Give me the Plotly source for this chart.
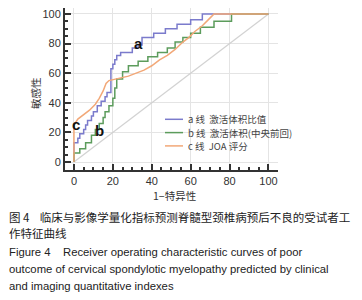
import plotly.graph_objects as go

# ROC curve data (1-specificity %, sensitivity %)
a_x = [0, 0, 2, 2, 3, 3, 5, 5, 6, 6, 7, 7, 9, 9, 10, 10, 12, 12, 14, 14, 16, 16, 17, 17, 19, 19, 20, 20, 21, 21, 22, 22, 24, 24, 30, 30, 33, 33, 35, 35, 41, 41, 47, 47, 53, 53, 60, 60, 66, 66, 100]
a_y = [0, 13, 13, 16, 16, 19, 19, 22, 22, 25, 25, 28, 28, 31, 31, 34, 34, 38, 38, 41, 41, 44, 44, 47, 47, 63, 63, 66, 66, 69, 69, 72, 72, 74, 74, 77, 77, 79, 79, 84, 84, 87, 87, 90, 90, 93, 93, 96, 96, 100, 100]

b_x = [0, 0, 3, 3, 6, 6, 9, 9, 11, 11, 13, 13, 15, 15, 16, 16, 18, 18, 20, 20, 21, 21, 22, 22, 25, 25, 28, 28, 33, 33, 38, 38, 43, 43, 48, 48, 52, 52, 56, 56, 60, 60, 65, 65, 72, 72, 81, 81, 100]
b_y = [0, 6, 6, 9, 9, 13, 13, 18, 18, 22, 22, 26, 26, 30, 30, 34, 34, 38, 38, 43, 43, 50, 50, 56, 56, 61, 61, 65, 65, 68, 68, 71, 71, 74, 74, 77, 77, 81, 81, 84, 84, 87, 87, 91, 91, 95, 95, 100, 100]

c_x = [0, 0, 2, 5, 8, 11, 13, 15, 16.5, 18, 21, 24, 28, 32, 36, 40, 44, 48, 52, 56, 59, 62, 66, 69, 72, 100]
c_y = [0, 25, 29, 32, 35, 39, 43, 48, 53, 55, 56, 57, 58, 60, 62, 65, 69, 72, 76, 81, 84, 88, 92, 96, 100, 100]

diag_x = [0, 100]
diag_y = [0, 100]

tick_vals = [0, 20, 40, 60, 80, 100]

series_names = ["a 线  激活体积比值", "b 线  激活体积(中央前回)", "c 线  JOA 评分"]
series_colors = ["#7b7bcc", "#5c9c5c", "#f2a878"]

FONT = "Liberation Sans, Arial, Noto Sans CJK SC, sans-serif"
CJK = "Noto Sans CJK SC, sans-serif"

# The page body has an 8px default margin, so the figure is drawn offset by 8px.
OFF = 8
W, H = 362 - OFF, 300 - OFF
L, T = 65 - OFF, 8 - OFF
PW, PH = 213, 162
R, B = W - L - PW, H - T - PH


def px(x):
    """target-page x pixel -> paper coordinate"""
    return (x - OFF - L) / PW


def py(y):
    """target-page y pixel -> paper coordinate"""
    return (T + PH - (y - OFF)) / PH


fig = go.Figure()
fig.add_trace(go.Scatter(x=diag_x, y=diag_y, mode="lines",
                         line=dict(color="#d2d2d2", width=1.2), showlegend=False))
for xs, ys, nm, col in [(a_x, a_y, series_names[0], series_colors[0]),
                        (b_x, b_y, series_names[1], series_colors[1]),
                        (c_x, c_y, series_names[2], series_colors[2])]:
    fig.add_trace(go.Scatter(x=xs, y=ys, mode="lines", name=nm, showlegend=False,
                             line=dict(color=col, width=1.5)))

axis_common = dict(
    tickvals=tick_vals, ticks="inside", ticklen=6, tickwidth=1.5, tickcolor="#333",
    showline=True, linecolor="#333", linewidth=2, automargin=False,
    ticklabeloverflow="allow",
    showgrid=True, gridcolor="#e4e4e4", gridwidth=1, zeroline=False,
    tickfont=dict(family=FONT, size=11, color="#333"),
    minor=dict(dtick=5, ticks="inside", ticklen=3, tickcolor="#333", showgrid=False),
)
fig.update_xaxes(range=[-4.6, 104.9], **axis_common)
fig.update_yaxes(range=[-5.4, 104], **axis_common)

ann = []
shapes = []
# curve labels
for txt, x, y in [("a", 33.4, 79.7), ("b", 12.9, 21.6), ("c", 1.2, 25)]:
    ann.append(dict(text="<b>%s</b>" % txt, x=x, y=y, xref="x", yref="y", showarrow=False,
                    xanchor="center", yanchor="middle",
                    font=dict(family=FONT, size=15, color="#111")))
# legend (manual, to match compact spacing)
for i, (nm, col) in enumerate(zip(series_names, series_colors)):
    yy = 119.3 + i * 13.3
    shapes.append(dict(type="line", xref="paper", yref="paper", x0=px(165), x1=px(183),
                       y0=py(yy), y1=py(yy), line=dict(color=col, width=1.5)))
    ann.append(dict(text=nm, x=px(186), y=py(yy), xref="paper", yref="paper",
                    xanchor="left", yanchor="middle", showarrow=False,
                    font=dict(family=CJK, size=9.5, color="#444")))
# axis titles
ann.append(dict(text="1−特异性", x=px(174), y=py(195), xref="paper", yref="paper",
                xanchor="center", yanchor="middle",
                showarrow=False, font=dict(family=CJK, size=10.5, color="#333")))
ann.append(dict(text="敏感性", x=px(35), y=py(93), xref="paper", yref="paper",
                xanchor="center", yanchor="middle",
                showarrow=False, textangle=-90, font=dict(family=CJK, size=10.5, color="#333")))
# caption
caption = [
    ("图 4    临床与影像学量化指标预测脊髓型颈椎病预后不良的受试者工", 216.5, CJK, 11.5),
    ("作特征曲线", 233, CJK, 11.5),
    ("Figure 4    Receiver operating characteristic curves of poor", 251.5, FONT, 11.3),
    ("outcome of cervical spondylotic myelopathy predicted by clinical", 268.5, FONT, 11.3),
    ("and imaging quantitative indexes", 286, FONT, 11.3),
]
for txt, yy, fam, sz in caption:
    ann.append(dict(text=txt, x=px(7), y=py(yy), xref="paper", yref="paper",
                    xanchor="left", yanchor="middle", showarrow=False,
                    font=dict(family=fam, size=sz, color="#222")))

fig.update_layout(
    width=W, height=H,
    margin=dict(l=L, r=R, t=T, b=B, autoexpand=False),
    paper_bgcolor="white", plot_bgcolor="white",
    annotations=ann, shapes=shapes, showlegend=False,
)

fig.write_html("out.html")
